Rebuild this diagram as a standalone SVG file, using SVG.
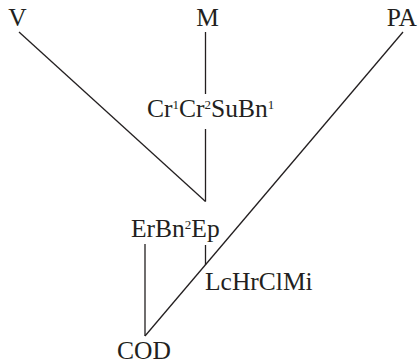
<svg xmlns="http://www.w3.org/2000/svg" width="418" height="363" viewBox="0 0 418 363">
<style>
text{font-family:"Liberation Serif","Times New Roman",serif;font-size:25.5px;fill:#231f20}
.s{font-size:13px}
line{stroke:#231f20;stroke-width:1.3;fill:none}
</style>
<rect width="418" height="363" fill="#fff"/>
<g id="connectors">
<line x1="19" y1="32" x2="205.5" y2="201.5"/>
<line x1="205.5" y1="32" x2="205.5" y2="94"/>
<line x1="205.5" y1="129" x2="205.5" y2="201.5"/>
<line x1="403" y1="32" x2="145" y2="336"/>
<line x1="145" y1="244" x2="145" y2="336"/>
<line x1="205.5" y1="245" x2="205.5" y2="265"/>
</g>
<g id="V"><text x="17.5" y="26" text-anchor="middle">V</text></g>
<g id="M"><text x="207.5" y="26" text-anchor="middle">M</text></g>
<g id="PA"><text x="417" y="26" text-anchor="end">PA</text></g>
<g id="Cr"><text x="147" y="117">Cr<tspan class="s" dy="-8">1</tspan><tspan dy="8">Cr</tspan><tspan class="s" dy="-8">2</tspan><tspan dy="8">SuBn</tspan><tspan class="s" dy="-8">1</tspan></text></g>
<g id="ErBnEp"><text x="131" y="236.5">ErBn<tspan class="s" dy="-8">2</tspan><tspan dy="8">Ep</tspan></text></g>
<g id="LcHrClMi"><text x="205" y="290">LcHrClMi</text></g>
<g id="COD"><text x="144" y="358.5" text-anchor="middle">COD</text></g>
</svg>
